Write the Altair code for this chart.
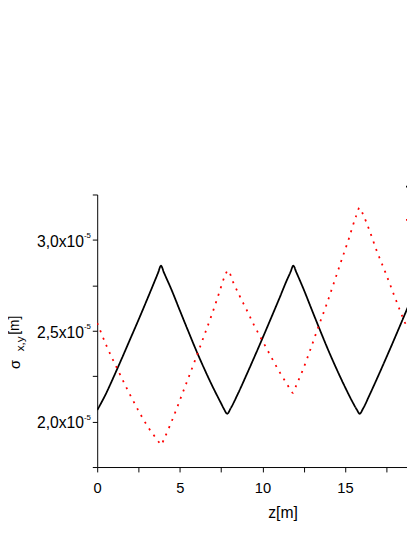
import altair as alt
import pandas as pd

# ---- data (sigma values in units of 1e-5 m) ----
z_x = [0.0, 0.5, 1.0, 1.5, 2.0, 2.5, 3.0, 3.5, 3.68, 3.86, 4.04, 4.5, 5.0, 5.5, 6.0,
       6.5, 7.0, 7.5, 7.68, 7.87, 8.06, 8.5, 9.0, 9.5, 10.0, 10.5, 11.0, 11.5, 11.69,
       11.87, 12.05, 12.5, 13.0, 13.5, 14.0, 14.5, 15.0, 15.5, 15.7, 15.89, 16.08,
       16.5, 17.0, 17.5, 18.0, 18.5, 19.0]
sigma_x = [2.063, 2.148, 2.247, 2.35, 2.455, 2.56, 2.668, 2.778, 2.818, 2.858, 2.82,
           2.725, 2.612, 2.5, 2.39, 2.287, 2.19, 2.1, 2.068, 2.043, 2.07, 2.15, 2.25,
           2.353, 2.458, 2.565, 2.673, 2.783, 2.821, 2.858, 2.822, 2.727, 2.613, 2.5,
           2.39, 2.287, 2.19, 2.1, 2.068, 2.043, 2.07, 2.15, 2.25, 2.353, 2.458, 2.565,
           2.673]

z_y = [0.0, 0.59, 1.23, 1.88, 2.59, 3.12, 3.45, 3.74, 3.86, 4.06, 4.45, 5.2, 5.99,
       6.48, 6.96, 7.41, 7.71, 7.92, 8.2, 8.62, 9.06, 9.49, 9.95, 10.44, 10.94, 11.47,
       11.7, 11.85, 12.04, 12.42, 12.91, 13.39, 13.87, 14.32, 14.77, 15.23, 15.66,
       15.88, 16.09, 16.45, 16.93, 17.47, 17.98, 18.5, 18.68, 19.0]
sigma_y = [2.543, 2.412, 2.288, 2.167, 2.045, 1.964, 1.922, 1.886, 1.872, 1.908, 1.989,
           2.165, 2.354, 2.475, 2.595, 2.717, 2.798, 2.832, 2.773, 2.692, 2.612, 2.531,
           2.453, 2.371, 2.288, 2.209, 2.175, 2.158, 2.198, 2.279, 2.399, 2.523, 2.642,
           2.762, 2.884, 3.007, 3.129, 3.177, 3.14, 3.059, 2.937, 2.815, 2.693, 2.572,
           2.533, 2.46]

series_names = ["σx", "σy"]
series_colors = ["#000000", "#ff0000"]

x_ticks = [0, 2.5, 5, 7.5, 10, 12.5, 15, 17.5]
y_ticks = [1.75, 2.0, 2.25, 2.5, 2.75, 3.0, 3.25]
y_label_vals = [2.0, 2.5, 3.0]
y_label_main = ["2,0x10", "2,5x10", "3,0x10"]
y_label_exp = ["-5", "-5", "-5"]
y_title_parts = ["σ", "x,y", "[m]"]
x_title = "z[m]"

FONT = "Liberation Sans"

df = pd.concat([
    pd.DataFrame({"z": z_x, "sigma": sigma_x, "series": series_names[0]}),
    pd.DataFrame({"z": z_y, "sigma": sigma_y, "series": series_names[1]}),
])

xscale = alt.Scale(domain=[0, 18.75], nice=False, zero=False)
yscale = alt.Scale(domain=[1.75, 3.25], nice=False, zero=False)

yaxis = alt.Axis(values=y_ticks, labels=False, title=None, tickSize=5,
                 domainColor="black", tickColor="black")

legend = alt.Legend(title=None, orient="none", legendX=314, legendY=-24,
                    symbolType="stroke", symbolSize=900, symbolStrokeWidth=1.8,
                    rowPadding=10, padding=0, labelFontSize=15, labelFont=FONT,
                    labelColor="black")

lines = alt.Chart(df).mark_line(clip=True, strokeWidth=1.8, interpolate="monotone",
                                strokeCap="butt").encode(
    x=alt.X("z:Q", scale=xscale,
            axis=alt.Axis(values=x_ticks,
                          labelExpr="datum.value % 5 === 0 ? datum.label : ''",
                          tickSize=5,
                          labelFontSize=15, labelFont=FONT, labelColor="black",
                          labelPadding=9, labelFlush=False, labelOverlap=False,
                          title=x_title, titleFont=FONT, titleFontSize=16,
                          titleFontWeight="normal", titleColor="black",
                          titleX=189, titleY=51, titleBaseline="alphabetic",
                          titleAlign="center")),
    y=alt.Y("sigma:Q", scale=yscale, axis=yaxis),
    color=alt.Color("series:N", scale=alt.Scale(domain=series_names, range=series_colors),
                    legend=legend),
    strokeDash=alt.StrokeDash("series:N",
                              scale=alt.Scale(domain=series_names, range=[[1, 0], [2, 6]]),
                              legend=legend),
)

ylab_df = pd.DataFrame({"sigma": y_label_vals, "main": y_label_main, "exp": y_label_exp})
ylab_main = alt.Chart(ylab_df).mark_text(align="right", baseline="alphabetic", dy=7,
                                         fontSize=16, font=FONT, color="black").encode(
    x=alt.value(-13.5), y=alt.Y("sigma:Q", scale=yscale, axis=yaxis), text="main:N")
ylab_exp = alt.Chart(ylab_df).mark_text(align="left", baseline="alphabetic", dy=-1.5,
                                        fontSize=8, font=FONT, color="black").encode(
    x=alt.value(-13.5), y=alt.Y("sigma:Q", scale=yscale, axis=yaxis), text="exp:N")

def title_part(txt, xv, yv, size):
    return alt.Chart(pd.DataFrame({"t": [txt]})).mark_text(
        angle=270, align="left", baseline="alphabetic", fontSize=size, font=FONT,
        color="black").encode(x=alt.value(xv), y=alt.value(yv), text="t:N")

t1 = title_part(y_title_parts[0], -79, 178, 15)
t2 = title_part(y_title_parts[1], -74.5, 160, 12)
t3 = title_part(y_title_parts[2], -79.5, 143, 14)

chart = alt.layer(lines, ylab_main, ylab_exp, t1, t2, t3).properties(
    width=316, height=278,
    autosize=alt.AutoSizeParams(type="none"),
    padding={"left": 91, "top": 185, "right": 0, "bottom": 60},
    background="white",
).configure_view(stroke=None).configure_axis(
    grid=False, domainColor="black", tickColor="black", domainWidth=1, tickWidth=1)

chart.save("out.html", embed_options={"renderer": "svg", "actions": False})
